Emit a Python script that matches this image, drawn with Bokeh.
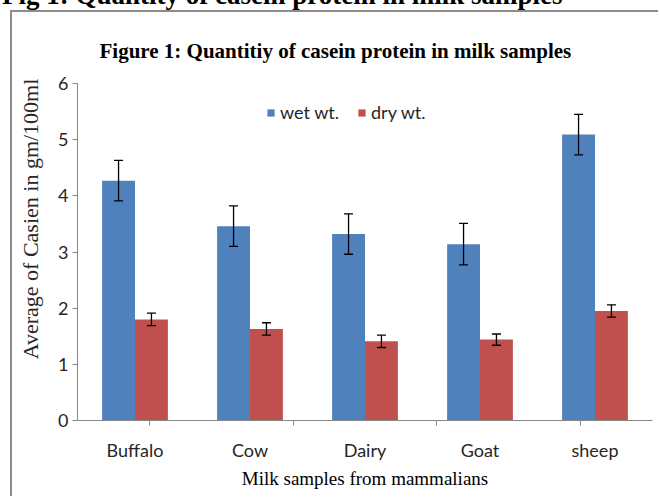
from bokeh.plotting import figure
from bokeh.layouts import column
from bokeh.models import (FactorRange, Range1d, CategoricalAxis, FixedTicker, Div,
                          ColumnDataSource, Whisker, TeeHead, Legend, LegendItem)
from bokeh.transform import dodge
from bokeh.embed import file_html
from bokeh.resources import INLINE

categories = ["Buffalo", "Cow", "Dairy", "Goat", "sheep"]
wet_wt = [4.27, 3.46, 3.32, 3.14, 5.09]
wet_err = [0.36, 0.36, 0.36, 0.37, 0.36]
dry_wt = [1.80, 1.63, 1.41, 1.44, 1.95]
dry_err = [0.11, 0.11, 0.11, 0.10, 0.11]
y_ticks = [0, 1, 2, 3, 4, 5, 6]

src = ColumnDataSource(dict(
    cat=categories, wet=wet_wt, dry=dry_wt,
    wet_up=[v + e for v, e in zip(wet_wt, wet_err)],
    wet_lo=[v - e for v, e in zip(wet_wt, wet_err)],
    dry_up=[v + e for v, e in zip(dry_wt, dry_err)],
    dry_lo=[v - e for v, e in zip(dry_wt, dry_err)],
))

BLUE = "#4F81BD"
RED = "#C0504D"
AXIS = "#868686"
FRAME = "#8c8c8c"
TXT = "#262626"
SANS = "Lato"
SERIF = "Liberation Serif"

# page text above the embedded chart (its upper part is cut off by the page edge)
head = Div(text="Fig 1: Quantity of casein protein in milk samples", width=660, height=30,
           margin=(-20, 0, 0, 2),
           styles={"font-family": SERIF, "font-weight": "bold", "font-size": "27px",
                   "line-height": "30px", "white-space": "nowrap", "color": "black"})

W, H = 648, 486
p = figure(width=W, height=H, output_backend="svg", toolbar_location=None,
           x_range=FactorRange(factors=categories, range_padding=0),
           y_range=Range1d(0, 6), x_axis_location=None,
           min_border_left=65, min_border_right=8, min_border_top=71, min_border_bottom=78,
           background_fill_color="white", border_fill_color="white",
           margin=(0, 0, 0, 10),
           styles={"border-top": "2px solid " + FRAME, "border-left": "2px solid " + FRAME})
p.outline_line_color = None
p.grid.visible = False

p.title.text = "Figure 1: Quantitiy of casein protein in milk samples"
p.title.text_font = SERIF
p.title.text_font_style = "bold"
p.title.text_font_size = "21px"
p.title.text_color = "black"
p.title.align = "left"
p.title.offset = 22
p.title.standoff = 42

# y axis
p.yaxis.ticker = FixedTicker(ticks=y_ticks)
p.yaxis.axis_line_color = AXIS
p.yaxis.major_tick_line_color = AXIS
p.yaxis.major_tick_out = 5
p.yaxis.major_tick_in = 0
p.yaxis.minor_tick_line_color = None
p.yaxis.major_label_text_font = SANS
p.yaxis.major_label_text_font_size = "18px"
p.yaxis.major_label_text_color = TXT
p.yaxis.major_label_standoff = 4
p.yaxis.axis_label = "\u00a0" * 12 + "Average of Casien in gm/100ml"
p.yaxis.axis_label_text_font = SERIF
p.yaxis.axis_label_text_font_style = "normal"
p.yaxis.axis_label_text_font_size = "22px"
p.yaxis.axis_label_text_color = TXT
p.yaxis.axis_label_standoff = 12

# x axis: tick marks at category boundaries (an auxiliary factor range whose
# factor centres fall on the boundaries of the main categories)
edges = ["edge%d" % i for i in range(len(categories) + 1)]
p.extra_x_ranges = {"edges": FactorRange(factors=edges, range_padding=-1, range_padding_units="absolute")}
tick_axis = CategoricalAxis(x_range_name="edges",
                            axis_line_color=AXIS, major_tick_line_color=AXIS, major_tick_out=5, major_tick_in=0,
                            major_label_text_font_size="0px", major_label_standoff=0)
p.add_layout(tick_axis, "below")
cat_axis = CategoricalAxis(axis_line_color=None, major_tick_line_color=None,
                           major_label_text_font=SANS, major_label_text_font_size="18px",
                           major_label_text_color=TXT, major_label_standoff=7,
                           axis_label="Milk samples from mammalians", axis_label_text_font=SERIF,
                           axis_label_text_font_style="normal", axis_label_text_font_size="19px",
                           axis_label_text_color="black", axis_label_standoff=4)
p.add_layout(cat_axis, "below")

bw = 0.286
r1 = p.vbar(x=dodge("cat", -bw / 2, range=p.x_range), top="wet", width=bw, source=src,
            fill_color=BLUE, line_color=None)
r2 = p.vbar(x=dodge("cat", bw / 2, range=p.x_range), top="dry", width=bw, source=src,
            fill_color=RED, line_color=None)

for off, up, lo in [(-bw / 2, "wet_up", "wet_lo"), (bw / 2, "dry_up", "dry_lo")]:
    w = Whisker(source=src, base=dodge("cat", off, range=p.x_range), upper=up, lower=lo,
                line_color="black", line_width=1.3, level="overlay",
                upper_head=TeeHead(size=9, line_color="black", line_width=1.3),
                lower_head=TeeHead(size=9, line_color="black", line_width=1.3))
    p.add_layout(w)

legend = Legend(items=[LegendItem(label="wet wt.", renderers=[r1]),
                       LegendItem(label="dry wt.", renderers=[r2])],
                orientation="horizontal", location=(189, 297),
                glyph_width=9, glyph_height=9, label_height=20, label_standoff=5, spacing=18,
                padding=0, margin=0, border_line_color=None, background_fill_alpha=0,
                label_text_font=SANS, label_text_font_size="18px", label_text_color=TXT)
p.add_layout(legend)

open("out.html", "w").write(file_html(column(head, p, spacing=0), INLINE))
